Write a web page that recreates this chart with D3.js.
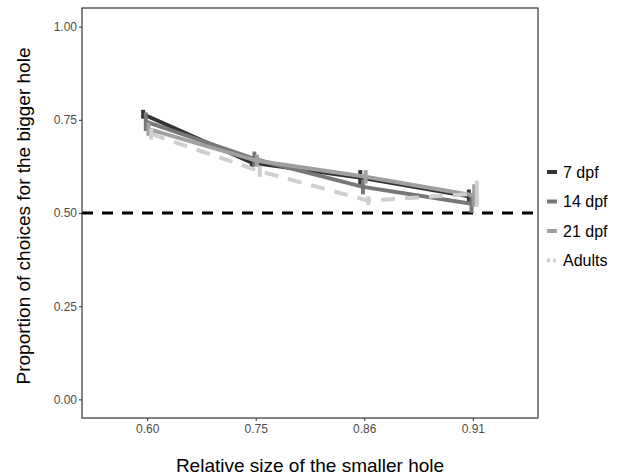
<!DOCTYPE html>
<html>
<head>
<meta charset="utf-8">
<script src="https://cdn.jsdelivr.net/npm/d3@7"></script>
<style>
  body { margin: 0; background: #fff; }
  text { font-family: "Liberation Sans", Arial, sans-serif; }
</style>
</head>
<body>
<svg width="634" height="475"></svg>
<script>
// relative size categories
const sizes = ["0.60", "0.75", "0.86", "0.91"]
const yTicks = [0, 0.25, 0.5, 0.75, 1]

const groups = ["7 dpf", "14 dpf", "21 dpf", "Adults"]
const colors = ["#333333", "#777777", "#a0a0a0", "#cfcfcf"]

// mean proportions per group
const mean7 = [0.765, 0.635, 0.595, 0.545]
const mean14 = [0.745, 0.645, 0.570, 0.525]
const mean21 = [0.725, 0.640, 0.597, 0.547]
const meanAd = [0.712, 0.612, 0.533, 0.552]

// standard errors
const se7 = [0.012, 0.015, 0.02, 0.018]
const se14 = [0.025, 0.02, 0.02, 0.025]
const se21 = [0.018, 0.016, 0.018, 0.03]
const seAd = [0.015, 0.015, 0.012, 0.035]

const means = [mean7, mean14, mean21, meanAd]
const ses = [se7, se14, se21, seAd]

const margin = {top: 8, right: 96, bottom: 57, left: 82}
const W = 634 - margin.left - margin.right
const H = 475 - margin.top - margin.bottom

const svg = d3.select("svg")
const g = svg.append("g")
    .attr("transform", `translate(${margin.left}, ${margin.top})`)

const x = d3.scalePoint()
    .domain(sizes)
    .range([0, W])
    .padding(0.6)

const y = d3.scaleLinear()
    .domain([-0.05, 1.05])
    .range([H, 0])

const dodge = d3.scalePoint()
    .domain(groups)
    .range([-4, 4])

// reference line at chance
g.append("line")
    .attr("x1", 0).attr("x2", W)
    .attr("y1", y(0.5)).attr("y2", y(0.5))
    .attr("stroke", "#000")
    .attr("stroke-width", 3)
    .attr("stroke-dasharray", "11,9")

const line = d3.line()
    .x(d => x(d.s) + d.dx)
    .y(d => y(d.m))

groups.forEach((grp, i) => {
    const pts = sizes.map((s, j) => ({s: s, m: means[i][j], e: ses[i][j], dx: dodge(grp)}))
    g.append("path")
        .datum(pts)
        .attr("fill", "none")
        .attr("stroke", colors[i])
        .attr("stroke-width", 4)
        .attr("stroke-dasharray", grp == "Adults" ? "14,10" : null)
        .attr("d", line)

    g.selectAll(null)
        .data(pts)
        .enter().append("line")
        .attr("x1", d => x(d.s) + d.dx)
        .attr("x2", d => x(d.s) + d.dx)
        .attr("y1", d => y(d.m - d.e))
        .attr("y2", d => y(d.m + d.e))
        .attr("stroke", colors[i])
        .attr("stroke-width", 4)
})

// panel border
g.append("rect")
    .attr("width", W).attr("height", H)
    .attr("fill", "none")
    .attr("stroke", "#333")
    .attr("stroke-width", 1.2)

const yAxis = g.append("g")
    .call(d3.axisLeft(y).tickValues(yTicks).tickFormat(d3.format(".2f")).tickSize(3))
yAxis.select(".domain").remove()
yAxis.selectAll("line").attr("stroke", "#333")
yAxis.selectAll("text")
    .attr("font-size", "12px")
    .attr("fill", "#4d4d4d")
    .attr("x", -5)

const xAxis = g.append("g")
    .attr("transform", `translate(0, ${H})`)
    .call(d3.axisBottom(x).tickSize(3))
xAxis.select(".domain").remove()
xAxis.selectAll("line").attr("stroke", "#333")
xAxis.selectAll("text")
    .attr("font-size", "12px")
    .attr("fill", "#4d4d4d")
    .attr("y", 6)

// axis titles
svg.append("text")
    .attr("x", margin.left + W / 2)
    .attr("y", 472)
    .attr("text-anchor", "middle")
    .attr("font-size", "19px")
    .text("Relative size of the smaller hole")

svg.append("text")
    .attr("transform", `translate(30, 216) rotate(-90)`)
    .attr("text-anchor", "middle")
    .attr("font-size", "19px")
    .text("Proportion of choices for the bigger hole")

// legend
const leg = svg.append("g").attr("transform", "translate(547, 172)")
groups.forEach((grp, i) => {
    const row = leg.append("g").attr("transform", `translate(0, ${i * 29.5})`)
    row.append("line")
        .attr("x1", 0).attr("x2", 10)
        .attr("stroke", colors[i])
        .attr("stroke-width", 4)
        .attr("stroke-dasharray", grp == "Adults" ? "3,3" : null)
    row.append("text")
        .attr("x", 16)
        .attr("dy", "0.35em")
        .attr("font-size", "16px")
        .text(grp)
})
</script>
</body>
</html>
